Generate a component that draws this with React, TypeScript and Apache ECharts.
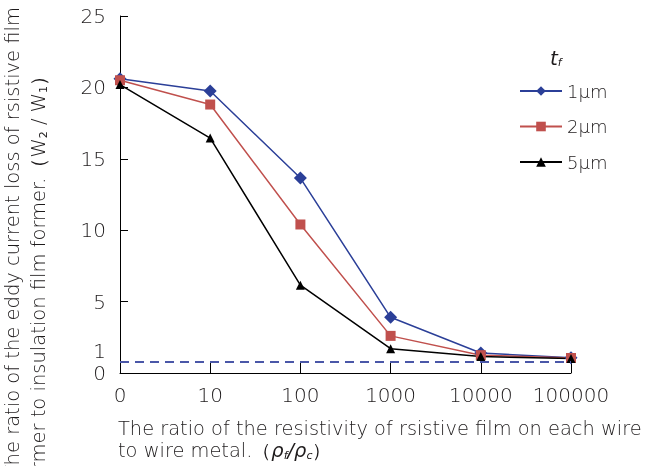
import React, { useEffect, useRef } from "react";
import * as echarts from "echarts";

const categories = ["0", "10", "100", "1000", "10000", "100000"];
const series1um = [20.6, 19.75, 13.65, 3.9, 1.4, 1.07];
const series2um = [20.5, 18.8, 10.4, 2.6, 1.25, 1.05];
const series5um = [20.2, 16.45, 6.15, 1.7, 1.15, 1.02];
const seriesNames = ["1μm", "2μm", "5μm"];
const referenceLevel = 0.8;
const yTicks = [0, 25, 5];

const FONT = "DejaVu Sans";
const TXT = "#1e1b1c";

export default function App() {
  const ref = useRef<HTMLDivElement>(null);
  useEffect(() => {
    if (!ref.current) return;
    const chart = echarts.init(ref.current, undefined, { renderer: "svg" });
    const mk = (name: string, data: number[], color: string, symbol: string, size: number, extra: any = {}) => ({
      name,
      type: "line",
      data,
      symbol,
      symbolSize: size,
      lineStyle: { color, width: 1.5 },
      itemStyle: { color },
      z: 3,
      ...extra,
    });
    chart.setOption({
      animation: false,
      grid: { left: 120, right: 74, top: 16, bottom: 93, containLabel: false },
      xAxis: {
        type: "category",
        data: categories,
        boundaryGap: false,
        axisLine: { lineStyle: { color: "#000", width: 1 } },
        axisTick: { inside: true, length: 10, interval: 0, lineStyle: { color: "#000" } },
        axisLabel: { interval: 0, margin: 12, fontSize: 20, color: TXT, fontFamily: FONT, fontWeight: 300 },
        splitLine: { show: false },
      },
      yAxis: {
        type: "value",
        min: yTicks[0],
        max: yTicks[1],
        interval: yTicks[2],
        axisLine: { show: true, lineStyle: { color: "#000", width: 1 } },
        axisTick: { show: true, inside: true, length: 8, lineStyle: { color: "#000" } },
        axisLabel: { margin: 14, fontSize: 20, color: TXT, fontFamily: FONT, fontWeight: 300 },
        splitLine: { show: false },
      },
      legend: {
        orient: "vertical",
        left: 519,
        top: 82,
        padding: 0,
        itemWidth: 42,
        itemHeight: 12,
        itemGap: 17.5,
        data: seriesNames,
        textStyle: { fontSize: 18, color: TXT, fontFamily: FONT, fontWeight: 300, padding: [0, 0, 0, 0] },
      },
      graphic: [
        {
          type: "text",
          x: 550,
          y: 57,
          style: {
            text: "{t|t}{f|f}",
            rich: {
              t: { fontSize: 20, fontStyle: "italic", fontFamily: FONT, fill: TXT, verticalAlign: "bottom" },
              f: { fontSize: 11, fontStyle: "italic", fontFamily: FONT, fill: TXT, padding: [10, 0, 0, 0] },
            },
            textVerticalAlign: "middle",
          },
        },
        {
          type: "text",
          x: 106,
          y: 351,
          style: { text: "1", fontSize: 20, fontFamily: FONT, fontWeight: 300, fill: TXT, textAlign: "right", textVerticalAlign: "middle" },
        },
        {
          type: "text",
          x: 12,
          y: 7,
          rotation: Math.PI / 2,
          style: {
            text: "The ratio of the eddy current loss of rsistive film",
            fontSize: 19.5,
            fontFamily: FONT,
            fontWeight: 300,
            fill: TXT,
            textAlign: "right",
            textVerticalAlign: "middle",
          },
        },
        {
          type: "text",
          x: 38,
          y: 66,
          rotation: Math.PI / 2,
          style: {
            text: "former to insulation film former.（W{s|2} / W{s|1}）",
            fontSize: 19.5,
            fontFamily: FONT,
            fontWeight: 300,
            fill: TXT,
            textAlign: "right",
            textVerticalAlign: "middle",
            rich: { s: { fontSize: 11, fontFamily: FONT, fill: TXT, padding: [10, 0, 0, 0] } },
          },
        },
        {
          type: "text",
          x: 118,
          y: 428,
          style: {
            text: "The ratio of the resistivity of rsistive film on each wire",
            fontSize: 19.4,
            fontFamily: FONT,
            fontWeight: 300,
            fill: TXT,
            textAlign: "left",
            textVerticalAlign: "middle",
          },
        },
        {
          type: "text",
          x: 118,
          y: 450,
          style: {
            text: "to wire metal.（{r|ρ}{s|f}{r|/ρ}{s|c}）",
            fontSize: 19.4,
            fontFamily: FONT,
            fontWeight: 300,
            fill: TXT,
            textAlign: "left",
            textVerticalAlign: "middle",
            rich: {
              r: { fontSize: 19.4, fontStyle: "italic", fontFamily: FONT, fill: TXT },
              s: { fontSize: 11, fontStyle: "italic", fontFamily: FONT, fill: TXT, padding: [10, 0, 0, 0] },
            },
          },
        },
      ],
      series: [
        mk(seriesNames[0], series1um, "#2b3f98", "diamond", 13, {
          markLine: {
            silent: true,
            symbol: "none",
            label: { show: false },
            lineStyle: { color: "#4a57a8", type: [9, 6], width: 2 },
            data: [{ yAxis: referenceLevel }],
          },
        }),
        mk(seriesNames[1], series2um, "#c0504d", "rect", 10),
        mk(seriesNames[2], series5um, "#000000", "triangle", 9),
      ],
    });
    return () => chart.dispose();
  }, []);
  return <div ref={ref} style={{ position: "fixed", left: 0, top: 0, width: 645, height: 466 }} />;
}
